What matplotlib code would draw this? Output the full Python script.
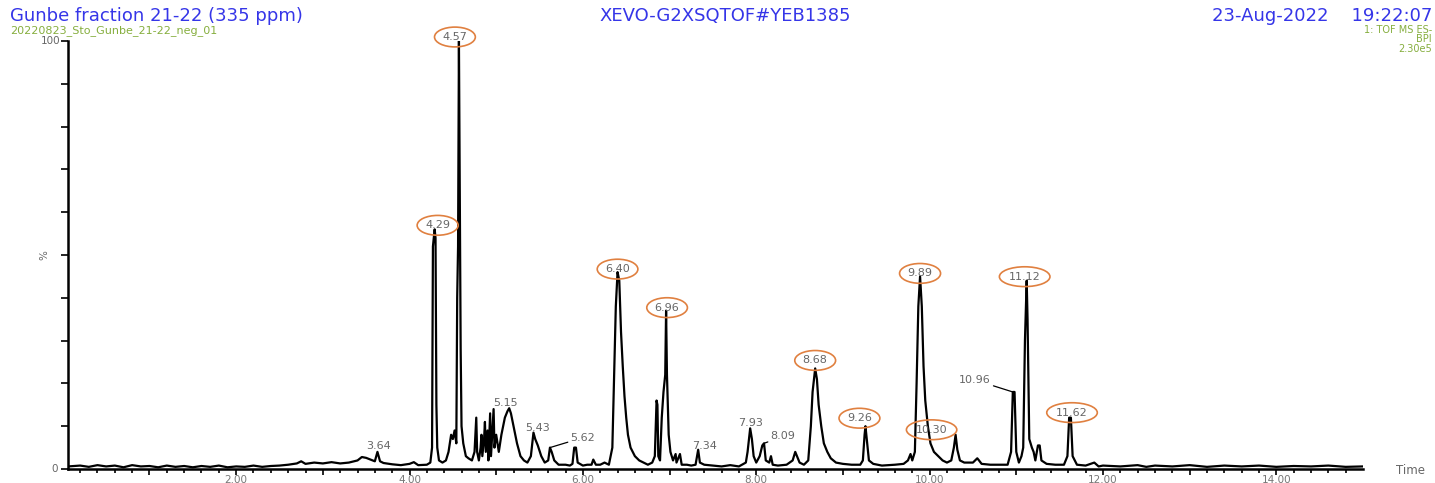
import numpy as np
import matplotlib.pyplot as plt

# Chromatogram trace (retention time in min, relative intensity in %)
rt = [0.06, 0.2, 0.3, 0.4, 0.5, 0.6, 0.7, 0.8, 0.9, 1.0, 1.1, 1.2, 1.3, 1.4, 1.5, 1.6, 1.7, 1.8, 1.9, 2.0,
      2.1, 2.2, 2.3, 2.4, 2.5, 2.6, 2.7, 2.75, 2.8, 2.9, 3.0, 3.1, 3.2, 3.3, 3.4, 3.45, 3.5, 3.55, 3.6,
      3.63, 3.66, 3.7, 3.8, 3.9, 4.0, 4.05, 4.1, 4.2, 4.24, 4.26, 4.27, 4.29, 4.30, 4.31, 4.32, 4.34,
      4.38, 4.42, 4.45, 4.48, 4.50, 4.52, 4.54, 4.55, 4.56, 4.57, 4.58, 4.59, 4.60, 4.62, 4.65, 4.68,
      4.72, 4.75, 4.77, 4.78, 4.80, 4.82, 4.83, 4.84, 4.86, 4.87, 4.88, 4.90, 4.91, 4.93, 4.94, 4.97,
      4.98, 5.00, 5.03, 5.06, 5.10, 5.13, 5.15, 5.17, 5.20, 5.24, 5.28, 5.32, 5.36, 5.40, 5.43, 5.45,
      5.48, 5.52, 5.56, 5.60, 5.62, 5.64, 5.67, 5.72, 5.80, 5.85, 5.88, 5.90, 5.92, 5.94, 6.00, 6.05,
      6.10, 6.12, 6.15, 6.20, 6.25, 6.30, 6.34, 6.36, 6.38, 6.40, 6.42, 6.44, 6.46, 6.48, 6.50, 6.52,
      6.55, 6.60, 6.65, 6.70, 6.75, 6.80, 6.83, 6.85, 6.86, 6.87, 6.89, 6.91, 6.93, 6.95, 6.96, 6.97,
      6.99, 7.01, 7.04, 7.07, 7.08, 7.12, 7.14, 7.20, 7.25, 7.30, 7.33, 7.35, 7.40, 7.50, 7.60, 7.70,
      7.80, 7.88, 7.90, 7.93, 7.95, 7.97, 8.00, 8.04, 8.07, 8.09, 8.11, 8.15, 8.17, 8.19, 8.25, 8.35,
      8.42, 8.45, 8.47, 8.50, 8.55, 8.60, 8.63, 8.65, 8.68, 8.70, 8.72, 8.75, 8.78, 8.82, 8.86, 8.92,
      9.00, 9.10, 9.20, 9.23, 9.25, 9.26, 9.28, 9.30, 9.35, 9.45, 9.60, 9.70, 9.75, 9.78, 9.80, 9.83,
      9.85, 9.87, 9.89, 9.91, 9.93, 9.95, 9.98, 10.01, 10.05, 10.10, 10.15, 10.20, 10.25, 10.28, 10.30,
      10.32, 10.35, 10.40, 10.50, 10.55, 10.57, 10.60, 10.70, 10.80, 10.90, 10.94, 10.96, 10.98, 11.00,
      11.03, 11.06, 11.08, 11.10, 11.12, 11.13, 11.15, 11.18, 11.20, 11.22, 11.25, 11.27, 11.29, 11.35,
      11.45, 11.55, 11.59, 11.61, 11.63, 11.65, 11.70, 11.80, 11.90, 11.95, 12.0, 12.2, 12.4, 12.5,
      12.6, 12.8, 13.0, 13.2, 13.4, 13.6, 13.8, 14.0, 14.2, 14.4, 14.6, 14.8, 15.0]
intensity = [0.6, 0.8, 0.5, 0.9, 0.6, 0.8, 0.4, 0.9, 0.6, 0.7, 0.4, 0.8, 0.5, 0.7, 0.4, 0.7, 0.5, 0.8, 0.4, 0.6,
             0.5, 0.8, 0.5, 0.7, 0.8, 1.0, 1.3, 1.8, 1.2, 1.5, 1.3, 1.6, 1.3, 1.5, 2.0, 2.8, 2.6, 2.2, 1.8,
             4.0, 1.8, 1.4, 1.1, 0.9, 1.2, 1.6, 0.9, 1.0, 1.5, 5.0, 52, 56, 54, 15, 5.0, 2.0,
             1.5, 2.0, 4.0, 8.0, 7.0, 9.0, 6.0, 40, 52, 100, 65, 28, 10, 6.0, 3.0, 2.5,
             2.0, 4.0, 12, 4.0, 2.0, 5.0, 8.0, 3.0, 7.0, 11, 4.0, 9.0, 2.0, 13, 3.0, 14,
             5.0, 8.0, 4.0, 8.0, 12, 13.5, 14.2, 13, 10, 6.0, 3.0, 2.0, 1.5, 3.0, 8.5, 7.0,
             5.5, 3.0, 1.5, 2.0, 5.0, 4.0, 2.0, 1.0, 1.0, 0.8, 1.2, 5.0, 5.0, 1.5, 0.8, 1.0,
             1.0, 2.2, 1.0, 1.0, 1.5, 1.0, 5.0, 22, 38, 46, 44, 32, 24, 17, 12, 8.0,
             5.0, 3.0, 2.0, 1.5, 1.0, 1.5, 3.0, 16, 15, 3.0, 2.0, 12, 18, 22, 37, 22,
             8.0, 4.0, 2.0, 3.5, 1.5, 3.5, 1.0, 1.0, 0.8, 1.0, 4.5, 1.5, 1.0, 0.8, 0.6, 0.9,
             0.6, 1.5, 4.0, 9.5, 7.0, 3.0, 1.5, 3.0, 5.5, 6.0, 2.0, 1.5, 3.0, 1.0, 0.8, 1.0,
             2.0, 4.0, 3.0, 1.5, 1.0, 2.0, 10, 18, 23.5, 21, 15, 10, 6.0, 4.0, 2.5, 1.5,
             1.2, 1.0, 1.0, 2.0, 8.0, 10, 6.0, 2.0, 1.2, 0.8, 1.0, 1.2, 2.0, 3.5, 2.0, 4.0,
             20, 38, 45, 38, 24, 16, 10, 6.0, 4.0, 3.0, 2.0, 1.5, 2.0, 5.0, 8.0,
             4.5, 2.0, 1.5, 1.5, 2.5, 2.0, 1.2, 1.0, 1.0, 1.0, 4.0, 18, 18, 4.0,
             1.5, 3.0, 5.0, 30, 44, 35, 7.0, 5.0, 4.0, 2.0, 5.5, 5.5, 2.0, 1.2,
             1.0, 1.0, 3.0, 12, 12, 3.0, 1.0, 0.8, 1.5, 0.6, 0.8, 0.6, 0.9, 0.5,
             0.8, 0.6, 0.9, 0.5, 0.8, 0.6, 0.8, 0.5, 0.7, 0.6, 0.8, 0.5, 0.6]

# Peak labels
circled_rt = [4.57, 4.29, 6.40, 6.96, 8.68, 9.26, 9.89, 10.30, 11.12, 11.62]
circled_int = [100, 56, 46, 37, 23.5, 10, 45, 8.0, 44, 12]
plain_rt = [3.64, 5.15, 5.43, 5.62, 7.34, 7.93, 8.09, 10.96]
plain_int = [4.0, 14.2, 8.5, 5.0, 4.5, 9.5, 6.0, 18]

fig = plt.figure(figsize=(14.35, 4.83), dpi=100)
ax = fig.add_axes([68 / 1435, 14 / 483, (1363 - 68) / 1435, 428 / 483])

ax.plot(rt, intensity, color='black', linewidth=1.6)
ax.set_xlim(0.06, 15.0)
ax.set_ylim(0, 100)

for s in ['top', 'right']:
    ax.spines[s].set_visible(False)
for s in ['left', 'bottom']:
    ax.spines[s].set_linewidth(1.8)

ax.set_yticks(np.arange(0, 101, 10))
ax.set_yticklabels([])
ax.tick_params(axis='y', length=5, width=1.2, direction='out')
major = np.arange(1, 15, 1)
ax.set_xticks(major)
ax.set_xticklabels([f'{v:.2f}' if v % 2 == 0 else '' for v in major],
                   color='#777777', fontsize=7.5)
ax.set_xticks(np.arange(0.2, 15.0, 0.2), minor=True)
ax.tick_params(axis='x', which='major', length=4, width=1.2, direction='out', pad=0.5)
ax.tick_params(axis='x', which='minor', length=3, width=1.2, direction='out')

orange = '#E08040'
label_grey = '#666666'

circ_offsets = [(-4, 4), (3, 4), (0, 3), (1, 3), (0, 8), (-6, 8), (0, 3), (-24, 5), (-2, 4), (2, 5)]
for t, h, off in zip(circled_rt, circled_int, circ_offsets):
    ax.annotate(f'{t:.2f}', xy=(t, h), xytext=off, textcoords='offset pixels',
                ha='center', va='center', fontsize=8, color=label_grey,
                annotation_clip=False,
                bbox=dict(boxstyle='ellipse,pad=0.18', fc='none', ec=orange, lw=1.2))

plain_offsets = [(0, 6), (-4, 5), (4, 5), (33, 10), (6, 4), (0, 5), (19, 7), (-38, 12)]
leader = [False, False, False, True, False, False, True, True]
for t, h, off, ld in zip(plain_rt, plain_int, plain_offsets, leader):
    kw = {}
    if ld:
        kw['arrowprops'] = dict(arrowstyle='-', color='black', lw=0.9, shrinkA=0, shrinkB=0)
    ax.annotate(f'{t:.2f}', xy=(t, h), xytext=off, textcoords='offset pixels',
                ha='center', va='center', fontsize=8, color=label_grey, **kw)

# y axis annotations
fig.text(60 / 1435, 1 - 41 / 483, '100', ha='right', va='center', fontsize=7.5, color=label_grey)
fig.text(58 / 1435, 1 - 469 / 483, '0', ha='right', va='center', fontsize=7.5, color=label_grey)
fig.text(44 / 1435, 1 - 255 / 483, '%', ha='center', va='center', fontsize=7.5,
         color=label_grey, rotation=90)
fig.text(1396 / 1435, 1 - 470 / 483, 'Time', ha='left', va='center', fontsize=8.5, color=label_grey)

# header
blue = '#3535E8'
green = '#86AE3E'
fig.text(10 / 1435, 1 - 16 / 483, 'Gunbe fraction 21-22 (335 ppm)', ha='left', va='center',
         fontsize=13, color=blue)
fig.text(10 / 1435, 1 - 31 / 483, '20220823_Sto_Gunbe_21-22_neg_01', ha='left', va='center',
         fontsize=8, color=green)
fig.text(725 / 1435, 1 - 16 / 483, 'XEVO-G2XSQTOF#YEB1385', ha='center', va='center',
         fontsize=13, color=blue)
fig.text(1432 / 1435, 1 - 16 / 483, '23-Aug-2022    19:22:07', ha='right', va='center',
         fontsize=13, color=blue)
fig.text(1432 / 1435, 1 - 30 / 483, '1: TOF MS ES-', ha='right', va='center',
         fontsize=7, color=green)
fig.text(1432 / 1435, 1 - 39.5 / 483, 'BPI', ha='right', va='center', fontsize=7, color=green)
fig.text(1432 / 1435, 1 - 49 / 483, '2.30e5', ha='right', va='center', fontsize=7, color=green)

plt.savefig('out.png', dpi=100)
